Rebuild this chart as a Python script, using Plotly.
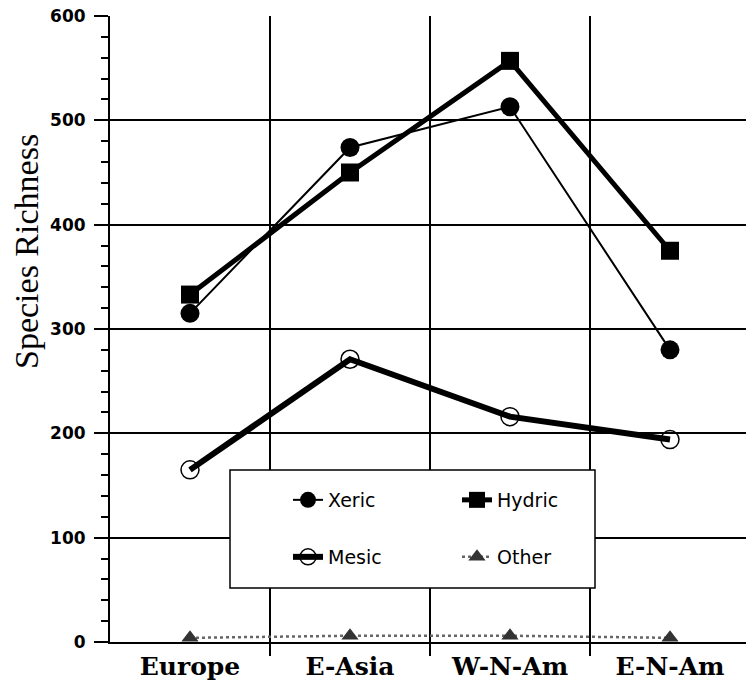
import plotly.graph_objects as go

regions = ["Europe", "E-Asia", "W-N-Am", "E-N-Am"]
xeric = [315, 474, 513, 280]
hydric = [333, 450, 557, 375]
mesic = [165, 271, 216, 194]
other = [4, 6, 6, 4]
y_ticks = [0, 100, 200, 300, 400, 500, 600]

xs = list(range(len(regions)))

W, H = 746, 680
ML, MR, MT, MB = 110, 0, 16, 38
PW, PH = W - ML - MR, H - MT - MB


def px_x(p):
    return (p - ML) / PW


def px_y(p):
    return (H - MB - p) / PH


fig = go.Figure()
fig.add_trace(go.Scatter(
    x=xs, y=xeric, name="Xeric", mode="lines+markers", legend="legend",
    line=dict(color="black", width=2),
    marker=dict(symbol="circle", size=19, color="black")))
fig.add_trace(go.Scatter(
    x=xs, y=hydric, name="Hydric", mode="lines+markers", legend="legend",
    line=dict(color="black", width=5),
    marker=dict(symbol="square", size=18, color="black")))
fig.add_trace(go.Scatter(
    x=xs, y=mesic, name="Mesic", mode="lines+markers", legend="legend2",
    line=dict(color="black", width=6),
    marker=dict(symbol="circle-open", size=18, color="black", line=dict(width=1.5))))
fig.add_trace(go.Scatter(
    x=xs, y=other, name="Other", mode="lines+markers", legend="legend2",
    line=dict(color="#666666", width=2.5, dash="dot"),
    marker=dict(symbol="triangle-up", size=15, color="#333333")))

legend_font = dict(family="DejaVu Sans", size=19, color="black")

fig.update_layout(
    width=W, height=H,
    margin=dict(l=ML, r=MR, t=MT, b=MB, autoexpand=False),
    plot_bgcolor="white", paper_bgcolor="white",
    font=dict(family="DejaVu Sans", color="black"),
    xaxis=dict(
        automargin=False,
        range=[-0.5, -0.5 + PW / 160.0],
        tickmode="array", tickvals=xs, ticktext=regions,
        ticks="", showgrid=False, zeroline=False,
        showline=True, linecolor="black", linewidth=2,
        tickfont=dict(family="DejaVu Serif", size=25, weight="bold", color="black"),
        ticklabelstandoff=1,
        minor=dict(tickmode="array", tickvals=[0.5, 1.5, 2.5], ticks="outside",
                   ticklen=12, tickwidth=2, tickcolor="black",
                   showgrid=True, gridcolor="black", gridwidth=2),
    ),
    yaxis=dict(
        automargin=False,
        range=[0, 600], tickmode="array", tickvals=y_ticks,
        ticks="outside", ticklen=14, tickwidth=2, tickcolor="black",
        showgrid=True, gridcolor="black", gridwidth=2, zeroline=False,
        showline=True, linecolor="black", linewidth=2,
        tickfont=dict(family="DejaVu Sans", size=17, weight="bold", color="black"),
        ticklabelstandoff=5,
        minor=dict(dtick=20, ticks="outside", ticklen=7, tickwidth=2,
                   tickcolor="black", showgrid=False),
    ),
    legend=dict(orientation="h", x=px_x(288), y=px_y(500), xanchor="left", yanchor="middle",
                entrywidth=124, entrywidthmode="pixels", bgcolor="rgba(0,0,0,0)",
                font=legend_font),
    legend2=dict(orientation="h", x=px_x(288), y=px_y(557), xanchor="left", yanchor="middle",
                 entrywidth=124, entrywidthmode="pixels", bgcolor="rgba(0,0,0,0)",
                 font=legend_font),
    shapes=[dict(type="rect", xref="paper", yref="paper",
                 x0=px_x(230), x1=px_x(595), y0=px_y(588), y1=px_y(470),
                 line=dict(color="black", width=1.5), fillcolor="white", layer="above")],
    annotations=[dict(text="Species Richness", xref="paper", yref="paper",
                      x=px_x(26), y=px_y(252), textangle=-90, showarrow=False,
                      xanchor="center", yanchor="middle",
                      font=dict(family="Liberation Serif", size=34, color="black"))],
)

fig.write_html("out.html", config={"displayModeBar": False},
               post_script="document.body.style.margin='0';")
